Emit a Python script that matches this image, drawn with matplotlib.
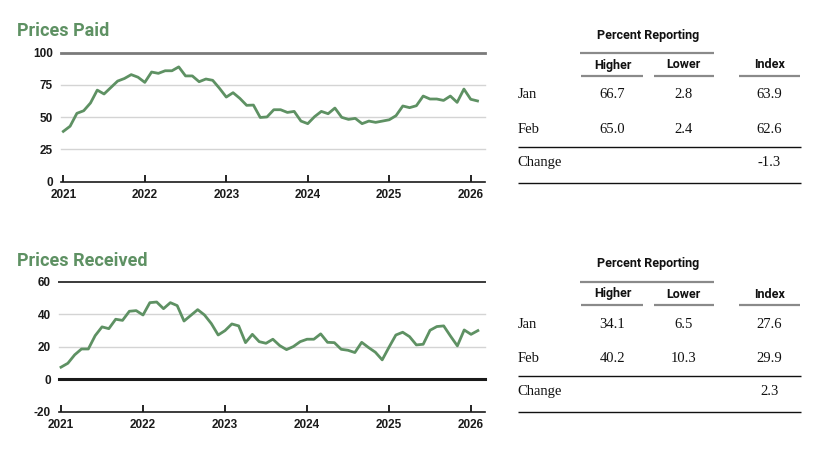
import matplotlib
matplotlib.use('Agg')
import matplotlib.pyplot as plt
from matplotlib.lines import Line2D
from matplotlib import font_manager

W, H = 822, 454

# monthly index values, Jan 2021 .. Feb 2026
paid = [39, 43, 53, 55, 61, 71, 68, 73, 78, 80, 83, 81,
        77, 85, 84, 86, 86, 89, 82, 82, 77.5, 79.6, 78.6, 72.4,
        65.6, 69, 64.6, 59.2, 59.4, 49.8, 50.2, 55.8, 55.8, 53.7, 54.5, 47,
        45, 50.4, 54.5, 52.7, 57.1, 49.9, 48.3, 49.1, 45, 47, 46, 47,
        48, 51.2, 58.7, 57.4, 58.9, 66.4, 64.1, 64.1, 63, 66.4, 61.5, 71.8,
        63.9, 62.6]
received = [7.4, 9.8, 15, 18.6, 18.6, 26.8, 32.2, 31.1, 36.9, 36.2, 41.8, 42.2,
            39.5, 47.1, 47.5, 43.4, 47.1, 45.3, 35.8, 39.3, 42.8, 39.5, 34.2, 27.2,
            29.9, 34, 32.8, 22.5, 27.6, 23.1, 22.1, 24.6, 20.7, 18.2, 20.1, 23.1,
            24.6, 24.6, 27.9, 22.7, 22.5, 18.4, 17.8, 16.4, 22.7, 19.5, 16.6, 11.9,
            19.7, 27.2, 28.9, 26.2, 21.1, 21.5, 30.1, 32.4, 32.8, 26.5, 20.5, 30.3,
            27.6, 29.9]

years = ['2021', '2022', '2023', '2024', '2025', '2026']
year_pos = [0, 12, 24, 36, 48, 60]

paid_yticks = [0, 25, 50, 75, 100]
recv_yticks = [-20, 0, 20, 40, 60]

table_cols = ['Higher', 'Lower', 'Index']
table_rows = ['Jan', 'Feb']
paid_jan = [66.7, 2.8, 63.9]
paid_feb = [65.0, 2.4, 62.6]
recv_jan = [34.1, 6.5, 27.6]
recv_feb = [40.2, 10.3, 29.9]

GREEN = '#5e9163'
avail = {f.name for f in font_manager.fontManager.ttflist}
NARROW = ['Liberation Sans Narrow', 'Roboto', 'DejaVu Sans']
NARROW = [f for f in NARROW if f in avail] or ['DejaVu Sans']
SANS = ['Liberation Sans', 'DejaVu Sans']
SERIF = ['Liberation Serif', 'DejaVu Serif']

fig = plt.figure(figsize=(W / 100, H / 100), dpi=100)


def fx(x):
    return x / W


def fy(y):
    return 1 - y / H


def hline(x0, x1, y, color, lw):
    fig.add_artist(Line2D([fx(x0), fx(x1)], [fy(y), fy(y)], color=color,
                          lw=lw, transform=fig.transFigure, solid_capstyle='butt'))


def draw_chart(rect, xlim, values, yticks, title, title_y, grid_styles, tick_colors):
    ax = fig.add_axes([fx(rect[0]), fy(rect[3]), fx(rect[2] - rect[0]),
                       (rect[3] - rect[1]) / H])
    ax.plot(range(len(values)), values, color=GREEN, lw=2.0, zorder=3)
    ax.set_xlim(*xlim)
    ax.set_ylim(yticks[0], yticks[-1])
    for t, (c, lw) in zip(yticks[1:], grid_styles):
        ax.axhline(t, color=c, lw=lw, zorder=1, clip_on=False)
    for s in ['top', 'right', 'left']:
        ax.spines[s].set_visible(False)
    ax.spines['bottom'].set_color('#1a1a1a')
    ax.spines['bottom'].set_linewidth(1.2)
    ax.set_yticks(yticks)
    ax.set_yticklabels([str(t) for t in yticks], family=SANS, fontweight='bold',
                       fontsize=8.5, color='#1a1a1a')
    ax.tick_params(axis='y', length=0, pad=6)
    ax.set_xticks(year_pos)
    ax.set_xticklabels(years, family=SANS, fontweight='bold', fontsize=8.5,
                       color='#1a1a1a')
    ax.tick_params(axis='x', direction='in', length=5, width=1.2, pad=5)
    for tk, c in zip(ax.xaxis.get_major_ticks(), tick_colors):
        tk.tick1line.set_color(c)
    fig.text(fx(17), fy(title_y), title, family=NARROW, fontweight='bold',
             fontsize=13, color=GREEN, va='center', ha='left')
    return ax


def draw_table(dy, jan, feb):
    fig.text(fx(648), fy(35 + dy), 'Percent Reporting', family=NARROW,
             fontweight='bold', fontsize=9, ha='center', va='center', color='#111111')
    hline(580, 714, 52.7 + dy, '#8a8a8a', 1.6)
    col_x = [612.5, 683.5, 769.5]
    spans = [(581, 643), (654, 714), (739, 800)]
    for name, x, (a, b) in zip(table_cols, col_x, spans):
        fig.text(fx(x), fy(65 + dy), name, family=NARROW, fontweight='bold',
                 fontsize=9, ha='center', va='center', color='#111111')
        hline(a, b, 76 + dy, '#8a8a8a', 1.6)
    for row, vals, y in zip(table_rows, [jan, feb], [95, 129.3]):
        fig.text(fx(517.7), fy(y + dy), row, family=SERIF, fontsize=10.5,
                 ha='left', va='center', color='#111111')
        for v, x in zip(vals, col_x):
            fig.text(fx(x), fy(y + dy), f'{v:.1f}', family=SERIF, fontsize=10.5,
                     ha='center', va='center', color='#111111')
    hline(517.7, 801, 146.7 + dy, '#111111', 1.0)
    fig.text(fx(517.7), fy(162.5 + dy), 'Change', family=SERIF, fontsize=10.5,
             ha='left', va='center', color='#111111')
    fig.text(fx(col_x[2]), fy(162.5 + dy), f'{feb[2] - jan[2]:.1f}', family=SERIF,
             fontsize=10.5, ha='center', va='center', color='#111111')
    hline(517.7, 801, 182.7 + dy, '#111111', 1.0)


draw_chart((61, 52.7, 484.7, 181.7), (-0.34, 62.06), paid, paid_yticks,
           'Prices Paid', 31,
           [('#d4d4d4', 1.0), ('#d4d4d4', 1.0), ('#d4d4d4', 1.0), ('#7a7a7a', 2.0)],
           ['#3a6fd8', '#e8a040', '#8b1a3a', '#3a6fd8', '#c0502a', '#2a4a8a'])
draw_chart((59.3, 281.7, 484.7, 411.7), (-0.25, 62.0), received, recv_yticks,
           'Prices Received', 261,
           [('#1a1a1a', 2.2), ('#d4d4d4', 1.0), ('#d4d4d4', 1.0), ('#3a3a3a', 1.4)],
           ['#e8a040', '#8b1a3a', '#e8a040', '#8b1a3a', '#e8a040', '#2a4a8a'])

draw_table(0, paid_jan, paid_feb)
draw_table(229, recv_jan, recv_feb)

fig.savefig('out.png', dpi=100)
